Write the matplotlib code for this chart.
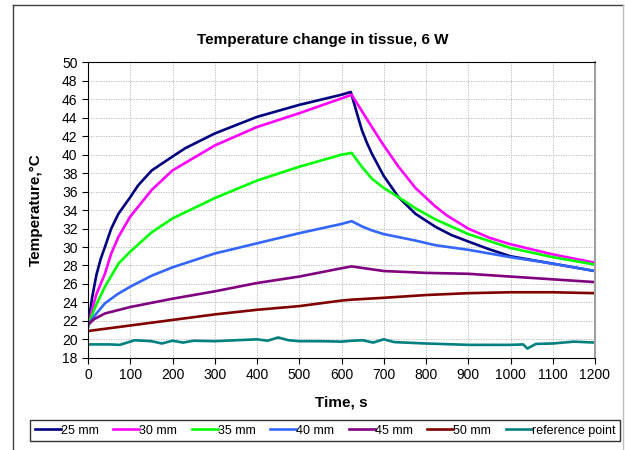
import matplotlib
matplotlib.use("Agg")
import matplotlib.pyplot as plt
from matplotlib.lines import Line2D

plt.rcParams['font.family'] = ['Liberation Sans', 'DejaVu Sans']

# readings, time in s, temperature in C
t_25 = [0, 10, 20, 30, 40, 55, 72, 100, 119, 151, 200, 230, 300, 400, 500, 600, 622,
        632, 648, 660, 672, 700, 735, 775, 822, 860, 900, 950, 1000, 1050, 1100, 1200]
T_25 = [21.4, 24.6, 27.0, 28.7, 30.0, 32.0, 33.6, 35.4, 36.7, 38.3, 39.8, 40.7, 42.3, 44.1,
        45.4, 46.5, 46.8, 45.2, 42.7, 41.3, 40.1, 37.7, 35.4, 33.6, 32.2, 31.3, 30.6, 29.75,
        29.0, 28.6, 28.2, 27.4]

t_30 = [0, 10, 20, 40, 55, 72, 100, 151, 200, 300, 400, 500, 600, 624,
        650, 672, 700, 735, 775, 822, 850, 900, 950, 1000, 1100, 1200]
T_30 = [21.4, 23.3, 24.9, 27.1, 29.3, 31.1, 33.3, 36.2, 38.3, 41.0, 43.0, 44.5, 46.1, 46.5,
        44.6, 43.0, 41.0, 38.7, 36.4, 34.4, 33.4, 32.0, 31.0, 30.3, 29.2, 28.3]

t_35 = [0, 10, 20, 40, 72, 100, 151, 200, 300, 400, 500, 600, 624,
        648, 672, 700, 735, 775, 822, 900, 1000, 1100, 1200]
T_35 = [21.4, 22.7, 23.8, 25.7, 28.2, 29.5, 31.6, 33.1, 35.3, 37.2, 38.7, 40.0, 40.2,
        38.7, 37.4, 36.4, 35.4, 34.2, 33.0, 31.4, 29.9, 28.9, 28.1]

t_40 = [0, 10, 20, 40, 70, 100, 151, 200, 300, 400, 500, 600, 624,
        650, 672, 700, 775, 822, 900, 1000, 1100, 1200]
T_40 = [21.5, 22.2, 22.8, 23.9, 24.9, 25.7, 26.9, 27.8, 29.3, 30.4, 31.5, 32.5, 32.8,
        32.2, 31.8, 31.4, 30.7, 30.2, 29.7, 28.9, 28.2, 27.4]

t_45 = [0, 15, 40, 100, 200, 300, 400, 500, 600, 624, 700, 800, 900, 1000, 1100, 1200]
T_45 = [21.6, 22.2, 22.8, 23.5, 24.4, 25.2, 26.1, 26.8, 27.7, 27.9, 27.4, 27.2, 27.1, 26.8,
        26.5, 26.2]

t_50 = [0, 100, 200, 300, 400, 500, 600, 624, 700, 800, 900, 1000, 1100, 1200]
T_50 = [20.9, 21.5, 22.1, 22.7, 23.2, 23.6, 24.2, 24.3, 24.5, 24.8, 25.0, 25.1, 25.1, 25.0]

t_ref = [0, 50, 75, 100, 110, 150, 175, 200, 225, 250, 300, 350, 400, 425, 450,
         475, 500, 550, 600, 625, 650, 675, 700, 725, 800, 900, 1000, 1030, 1040,
         1060, 1100, 1150, 1200]
T_ref = [19.45, 19.45, 19.4, 19.75, 19.9, 19.8, 19.55, 19.85, 19.65, 19.85, 19.8, 19.9,
         20.0, 19.85, 20.2, 19.9, 19.8, 19.8, 19.75, 19.85, 19.9, 19.65, 20.0, 19.7,
         19.55, 19.4, 19.4, 19.45, 19.0, 19.5, 19.55, 19.75, 19.65]

labels = ['25 mm', '30 mm', '35 mm', '40 mm', '45 mm', '50 mm', 'reference point']
colors = ['#000080', '#FF00FF', '#00FF00', '#3366FF', '#800080', '#800000', '#008080']
series = [(t_25, T_25), (t_30, T_30), (t_35, T_35), (t_40, T_40),
          (t_45, T_45), (t_50, T_50), (t_ref, T_ref)]

fig = plt.figure(figsize=(6.25, 4.5), dpi=100)
ax = fig.add_axes([0.1408, 0.2049, 0.8112, 0.6564])

for (t, T), lab, c in zip(series, labels, colors):
    ax.plot(t, T, color=c, lw=1.9, label=lab)

ax.set_xlim(0, 1200)
ax.set_ylim(18, 50)
ax.set_xticks(range(0, 1201, 100))
ax.set_yticks(range(18, 51, 2))
ax.grid(True, color='#b4b4b4', lw=0.6, linestyle=(0, (1.5, 1.5)))
ax.set_axisbelow(True)
ax.tick_params(direction='out', length=4, labelsize=10, top=False, right=False)
ax.spines['right'].set_color('#a0a0a0')
ax.spines['right'].set_linewidth(1.5)

ax.set_xlabel('Time, s', fontsize=11, fontweight='bold')
ax.xaxis.set_label_coords(0.5, -0.128)
ax.set_ylabel('Temperature,°C', fontsize=11, fontweight='bold')
ax.yaxis.set_label_coords(-0.089, 0.5)

fig.text(0.516, 0.911, 'Temperature change in tissue, 6 W', ha='center', va='center',
         fontsize=11, fontweight='bold')

leg = fig.legend(loc='center', bbox_to_anchor=(0.52, 0.0433), ncol=7, fontsize=9,
                 frameon=True, fancybox=False, handlelength=2.1, handletextpad=0.0,
                 columnspacing=1.15, borderpad=0.35, borderaxespad=0)
leg.get_frame().set_edgecolor('black')
leg.get_frame().set_linewidth(1.0)

# outer chart frame
fig.add_artist(Line2D([0.0208, 0.0208], [0.0, 0.989], color='#404040', lw=1.0))
fig.add_artist(Line2D([0.0208, 0.9968], [0.989, 0.989], color='#404040', lw=1.0))
fig.add_artist(Line2D([0.9968, 0.9968], [0.0, 0.989], color='#c0c0c0', lw=1.0))

fig.savefig('out.png', dpi=100)
